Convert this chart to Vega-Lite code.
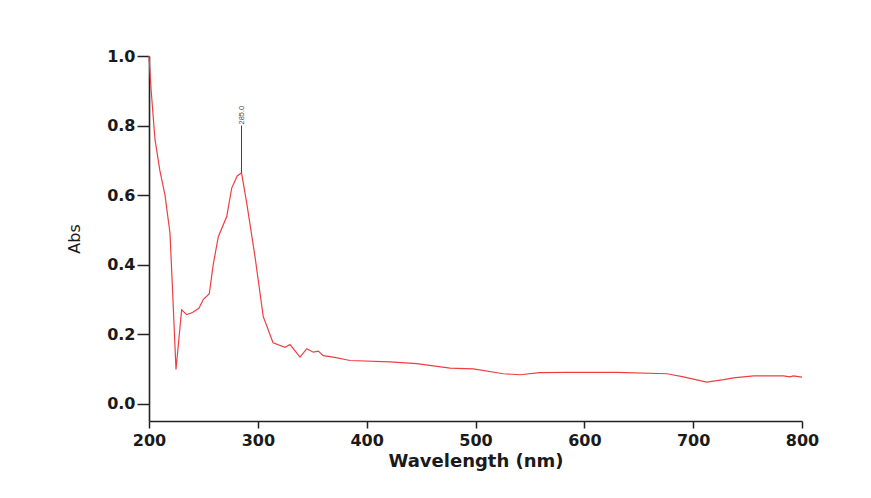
{
  "$schema": "https://vega.github.io/schema/vega-lite/v6.json",
  "autosize": {"type": "none"},
  "padding": {"left": 149, "top": 56, "right": 69, "bottom": 77},
  "width": 653,
  "height": 365,
  "background": "white",
  "config": {
    "view": {"stroke": null},
    "axis": {
      "grid": false,
      "labelFlush": false,
      "domainColor": "#222222",
      "domainWidth": 1.6,
      "tickColor": "#222222",
      "tickWidth": 1.5,
      "labelFont": "DejaVu Sans",
      "labelFontWeight": "bold",
      "labelFontSize": 16,
      "labelColor": "#1a1a1a",
      "titleFont": "DejaVu Sans",
      "titleColor": "#1a1a1a"
    }
  },
  "datasets": {
    "spectrum": [
      {"wl": 200, "abs": 1.0},
      {"wl": 202, "abs": 0.9},
      {"wl": 205.5, "abs": 0.76},
      {"wl": 210, "abs": 0.67},
      {"wl": 214.7, "abs": 0.6},
      {"wl": 219.3, "abs": 0.49},
      {"wl": 222, "abs": 0.3},
      {"wl": 224.8, "abs": 0.098},
      {"wl": 230, "abs": 0.27},
      {"wl": 234.6, "abs": 0.256},
      {"wl": 240, "abs": 0.262},
      {"wl": 246, "abs": 0.275},
      {"wl": 250, "abs": 0.3},
      {"wl": 255.4, "abs": 0.316},
      {"wl": 259, "abs": 0.4},
      {"wl": 263.7, "abs": 0.48},
      {"wl": 271.4, "abs": 0.538},
      {"wl": 276, "abs": 0.62},
      {"wl": 281, "abs": 0.655},
      {"wl": 285, "abs": 0.664},
      {"wl": 289.8, "abs": 0.577},
      {"wl": 297.4, "abs": 0.423},
      {"wl": 305, "abs": 0.25},
      {"wl": 314, "abs": 0.175},
      {"wl": 325, "abs": 0.162},
      {"wl": 329.6, "abs": 0.17},
      {"wl": 338.8, "abs": 0.134},
      {"wl": 345, "abs": 0.158},
      {"wl": 351, "abs": 0.148},
      {"wl": 355.6, "abs": 0.151},
      {"wl": 360, "abs": 0.138},
      {"wl": 369.4, "abs": 0.134},
      {"wl": 384.7, "abs": 0.124},
      {"wl": 421.5, "abs": 0.12},
      {"wl": 446, "abs": 0.115},
      {"wl": 476.6, "abs": 0.102},
      {"wl": 498, "abs": 0.1},
      {"wl": 525.6, "abs": 0.086},
      {"wl": 541, "abs": 0.083},
      {"wl": 559, "abs": 0.089},
      {"wl": 583.9, "abs": 0.09},
      {"wl": 630, "abs": 0.09},
      {"wl": 676, "abs": 0.086},
      {"wl": 691, "abs": 0.077},
      {"wl": 712.5, "abs": 0.062},
      {"wl": 728, "abs": 0.069},
      {"wl": 737, "abs": 0.074},
      {"wl": 755.5, "abs": 0.08},
      {"wl": 783, "abs": 0.08},
      {"wl": 789, "abs": 0.077},
      {"wl": 792, "abs": 0.08},
      {"wl": 800, "abs": 0.076}
    ],
    "peak": [
      {"wl": 285, "abs": 0.664, "top": 0.8, "label": "285.0"}
    ]
  },
  "layer": [
    {
      "data": {"name": "spectrum"},
      "mark": {"type": "line", "color": "#ef3e42", "strokeWidth": 1.2},
      "encoding": {
        "x": {
          "field": "wl",
          "type": "quantitative",
          "scale": {"domain": [200, 800], "nice": false, "zero": false},
          "axis": {"values": [200, 300, 400, 500, 600, 700, 800], "title": "Wavelength (nm)", "titleFontSize": 18, "titleFontWeight": "bold", "titlePadding": 4, "labelPadding": 4, "tickSize": 7}
        },
        "y": {
          "field": "abs",
          "type": "quantitative",
          "scale": {"domain": [-0.05, 1.0], "nice": false, "zero": false},
          "axis": {"values": [0, 0.2, 0.4, 0.6, 0.8, 1.0], "format": ".1f", "title": "Abs", "titleFontSize": 16, "titleFontWeight": "normal", "titlePadding": 24, "labelPadding": 2, "tickSize": 12}
        }
      }
    },
    {
      "data": {"name": "peak"},
      "mark": {"type": "rule", "color": "#444444", "strokeWidth": 1},
      "encoding": {
        "x": {"field": "wl", "type": "quantitative"},
        "y": {"field": "abs", "type": "quantitative"},
        "y2": {"field": "top"}
      }
    },
    {
      "data": {"name": "peak"},
      "mark": {"type": "text", "angle": 270, "align": "left", "baseline": "middle", "fontSize": 7.5, "font": "Liberation Sans", "color": "#444444", "dx": 1},
      "encoding": {
        "x": {"field": "wl", "type": "quantitative"},
        "y": {"field": "top", "type": "quantitative"},
        "text": {"field": "label"}
      }
    }
  ]
}
